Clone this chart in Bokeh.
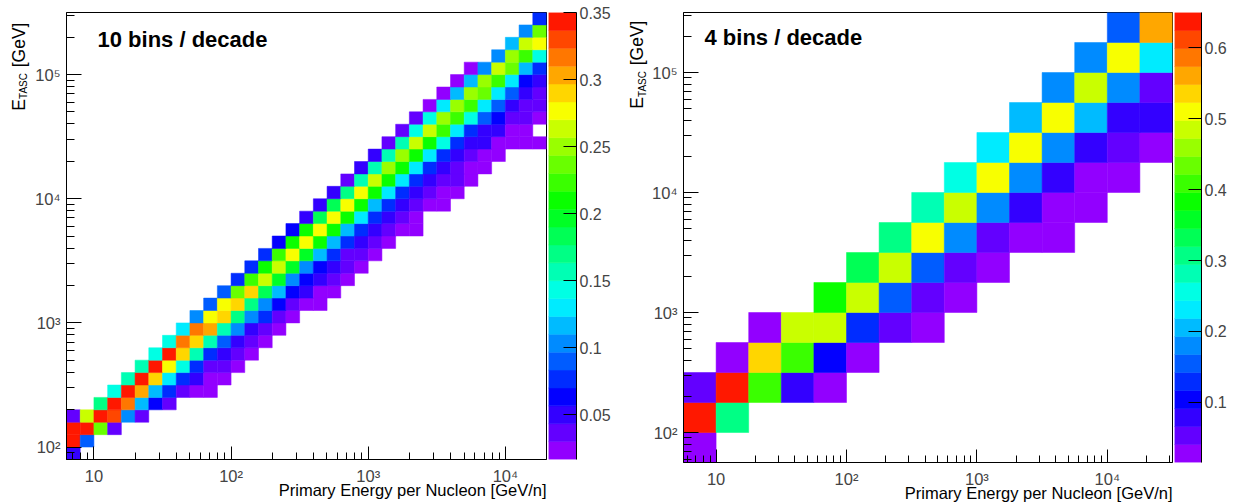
import colorsys
from math import pi
import numpy as np
from bokeh.plotting import figure
from bokeh.layouts import row
from bokeh.models import (ColumnDataSource, Range1d, FixedTicker, Label, Title,
                          LinearColorMapper, CustomJSTickFormatter)
from bokeh.transform import transform
from bokeh.core.properties import value
from bokeh.embed import file_html
from bokeh.resources import INLINE

FONT = "Liberation Sans"

# ---------------- common axis texts ----------------
x_ticks = [10, 100, 1000, 10000]
y_ticks = [100, 1000, 10000, 100000]
x_title = "Primary Energy per Nucleon [GeV/n]"
y_title_main, y_title_sub, y_title_unit = "E", "TASC", "[GeV]"

# ---------------- panel A : 10 bins / decade ----------------
a_title = "10 bins / decade"
a_x_log_range = (0.8, 4.3)
a_y_log_range = (1.9, 5.5)
a_bins_per_decade = 10
a_z_range = (0.0167, 0.35)
a_cbar_ticks = [0.05, 0.1, 0.15, 0.2, 0.25, 0.3, 0.35]
# first filled x-bin of every y-bin row (bottom to top)
a_row_start = [0, 0, 0, 0, 2, 3, 4, 5, 6, 7, 8, 9, 10, 11, 12, 13, 14, 15,
               16, 17, 18, 19, 20, 21, 22, 23, 24, 25, 26, 27, 28, 29, 31, 32, 33, 34]
a_rows = [
    [0.050],
    [0.343, 0.090],
    [0.343, 0.343, 0.237, 0.037],
    [0.037, 0.263, 0.343, 0.330, 0.103, 0.037],
    [0.170, 0.343, 0.317, 0.117, 0.063, 0.037],
    [0.143, 0.343, 0.303, 0.117, 0.077, 0.037, 0.023, 0.023],
    [0.157, 0.343, 0.290, 0.130, 0.077, 0.050, 0.023, 0.023],
    [0.157, 0.343, 0.277, 0.143, 0.077, 0.037, 0.037, 0.023],
    [0.143, 0.343, 0.290, 0.157, 0.077, 0.050, 0.037, 0.023],
    [0.143, 0.317, 0.290, 0.157, 0.090, 0.050, 0.037, 0.023],
    [0.130, 0.317, 0.303, 0.157, 0.103, 0.050, 0.037, 0.023],
    [0.103, 0.277, 0.290, 0.170, 0.103, 0.077, 0.037, 0.023],
    [0.090, 0.277, 0.290, 0.170, 0.103, 0.063, 0.037, 0.023, 0.023],
    [0.090, 0.237, 0.290, 0.183, 0.117, 0.063, 0.050, 0.023, 0.023],
    [0.077, 0.223, 0.263, 0.197, 0.103, 0.063, 0.050, 0.037, 0.023],
    [0.077, 0.210, 0.263, 0.197, 0.103, 0.063, 0.050, 0.037, 0.023],
    [0.077, 0.223, 0.277, 0.197, 0.117, 0.077, 0.037, 0.037, 0.023],
    [0.063, 0.210, 0.277, 0.210, 0.117, 0.077, 0.050, 0.037, 0.023],
    [0.063, 0.210, 0.277, 0.210, 0.117, 0.077, 0.050, 0.037, 0.023, 0.023],
    [0.050, 0.183, 0.277, 0.210, 0.130, 0.077, 0.050, 0.037, 0.023],
    [0.050, 0.183, 0.277, 0.210, 0.117, 0.077, 0.050, 0.037, 0.023, 0.023],
    [0.050, 0.170, 0.277, 0.210, 0.130, 0.077, 0.050, 0.037, 0.023, 0.023],
    [0.037, 0.157, 0.263, 0.210, 0.130, 0.077, 0.050, 0.037, 0.037, 0.023],
    [0.050, 0.157, 0.250, 0.210, 0.130, 0.077, 0.050, 0.037, 0.023, 0.023],
    [0.050, 0.157, 0.250, 0.210, 0.130, 0.077, 0.050, 0.037, 0.023, 0.023],
    [0.037, 0.157, 0.263, 0.210, 0.143, 0.077, 0.050, 0.050, 0.023, 0.023, 0.023, 0.023],
    [0.037, 0.143, 0.263, 0.223, 0.130, 0.077, 0.050, 0.050, 0.023, 0.023],
    [0.037, 0.143, 0.250, 0.223, 0.143, 0.090, 0.063, 0.037, 0.037, 0.023],
    [0.023, 0.130, 0.250, 0.223, 0.130, 0.090, 0.050, 0.037, 0.037],
    [0.023, 0.117, 0.250, 0.237, 0.130, 0.090, 0.050, 0.037],
    [0.023, 0.117, 0.250, 0.223, 0.130, 0.063, 0.050],
    [0.023, 0.103, 0.263, 0.237, 0.117, 0.077],
    [0.103, 0.250, 0.223, 0.143],
    [0.117, 0.263, 0.277],
    [0.103, 0.237],
    [0.077],
]

# ---------------- panel B : 4 bins / decade ----------------
b_title = "4 bins / decade"
b_x_log_range = (0.75, 4.5)
b_y_log_range = (1.75, 5.5)
b_bins_per_decade = 4
b_z_range = (0.015, 0.65)
b_cbar_ticks = [0.1, 0.2, 0.3, 0.4, 0.5, 0.6]
b_row_start = [0, 0, 0, 1, 2, 4, 5, 6, 7, 8, 9, 10, 11, 12, 13]
b_rows = [
    [0.028],
    [0.637, 0.307],
    [0.053, 0.637, 0.409, 0.079, 0.028],
    [0.028, 0.536, 0.409, 0.104, 0.028],
    [0.028, 0.485, 0.485, 0.129, 0.053, 0.028],
    [0.383, 0.485, 0.155, 0.053, 0.028],
    [0.332, 0.485, 0.155, 0.053, 0.028],
    [0.307, 0.510, 0.180, 0.053, 0.028, 0.028],
    [0.282, 0.485, 0.180, 0.079, 0.028, 0.028],
    [0.256, 0.510, 0.180, 0.079, 0.028, 0.028],
    [0.231, 0.510, 0.180, 0.079, 0.053, 0.028],
    [0.205, 0.510, 0.205, 0.079, 0.079],
    [0.180, 0.485, 0.180, 0.053],
    [0.180, 0.510, 0.231],
    [0.155, 0.561],
]

# ROOT-like rainbow palette (25 contour levels, violet -> red)
PALETTE = []
for k in range(25):
    h = (280.0 - (2 * k + 1) * 5.6) / 360.0
    r, g, b = colorsys.hls_to_rgb(h, 0.5, 1.0)
    PALETTE.append("#%02x%02x%02x" % (round(r * 255), round(g * 255), round(b * 255)))

H = 502
POW_FMT = CustomJSTickFormatter(code="""
const sup = ["\u2070", "\u00b9", "\u00b2", "\u00b3", "\u2074", "\u2075", "\u2076"];
const e = Math.round(Math.log10(tick));
return e == 1 ? "10" : "10" + sup[e];
""")


def build_ytitle(width, x_mid, end_y):
    """narrow strip holding the rotated y-axis title E_TASC [GeV] (y measured from top)"""
    f = figure(title=None, frame_width=width, frame_height=H,
               x_range=Range1d(0, width), y_range=Range1d(0, H),
               min_border=0, toolbar_location=None, output_backend="svg",
               x_axis_location=None, y_axis_location=None, outline_line_color=None,
               background_fill_color="white", border_fill_color="white")
    f.grid.visible = False
    common = dict(angle=pi / 2, text_font=value(FONT), text_align="center",
                  text_baseline="middle", text_color="black")
    f.text(x=[x_mid], y=[H - (end_y + 22.4)], text=[y_title_unit],
           text_font_size=value("17.5px"), **common)
    f.text(x=[x_mid + 5], y=[H - (end_y + 63.5)], text=[y_title_sub],
           text_font_size=value("10px"), **common)
    f.text(x=[x_mid], y=[H - (end_y + 82.5)], text=[y_title_main],
           text_font_size=value("17.5px"), **common)
    return f


def build_panel(title, xr, yr, bpd, row_start, rows, zr, left, top, fw, fh, title_pos):
    step = 1.0 / bpd
    L, R, B, T, V = [], [], [], [], []
    for j, (s, vals) in enumerate(zip(row_start, rows)):
        for k, v in enumerate(vals):
            i = s + k
            L.append(10 ** (xr[0] + i * step))
            R.append(10 ** (xr[0] + (i + 1) * step))
            B.append(10 ** (yr[0] + j * step))
            T.append(10 ** (yr[0] + (j + 1) * step))
            V.append(v)
    src = ColumnDataSource(dict(left=L, right=R, bottom=B, top=T, v=V))
    mapper = LinearColorMapper(palette=PALETTE, low=zr[0], high=zr[1])

    p = figure(title=None, x_axis_type="log", y_axis_type="log",
               x_range=Range1d(10 ** xr[0], 10 ** xr[1]),
               y_range=Range1d(10 ** yr[0], 10 ** yr[1]),
               frame_width=fw, frame_height=fh,
               min_border_left=left, min_border_right=1,
               min_border_top=top, min_border_bottom=H - top - fh,
               toolbar_location=None, output_backend="svg",
               background_fill_color="white", border_fill_color="white")
    p.outline_line_color = "black"
    p.outline_line_width = 1
    p.grid.visible = False

    p.quad(left="left", right="right", bottom="bottom", top="top", source=src,
           fill_color=transform("v", mapper), line_color=transform("v", mapper),
           line_width=0.5)

    xa = p.xaxis[0]
    xa.ticker = FixedTicker(ticks=x_ticks,
                            minor_ticks=[m * 10 ** e for e in range(0, 5) for m in range(2, 10)])
    xa.formatter = POW_FMT
    xa.major_tick_in, xa.major_tick_out = 13, 0
    xa.minor_tick_in, xa.minor_tick_out = 7, 0
    xa.axis_line_color = "black"
    xa.major_label_text_font = FONT
    xa.major_label_text_font_size = "16.5px"
    xa.major_label_standoff = 7

    ya = p.yaxis[0]
    ya.ticker = FixedTicker(ticks=y_ticks,
                            minor_ticks=[m * 10 ** e for e in range(1, 6) for m in range(2, 10)])
    ya.formatter = POW_FMT
    ya.major_tick_in, ya.major_tick_out = 15, 0
    ya.minor_tick_in, ya.minor_tick_out = 8, 0
    ya.axis_line_color = "black"
    ya.major_label_text_font = FONT
    ya.major_label_text_font_size = "16.5px"
    ya.major_label_standoff = 6

    # x-axis title, right aligned under the frame (ROOT style)
    p.add_layout(Title(text=x_title, align="right", vertical_align="top",
                       standoff=-14, offset=0, text_font=FONT,
                       text_font_size="16.5px", text_font_style="normal",
                       text_color="black"), "below")

    # panel title inside the frame
    p.add_layout(Label(x=title_pos[0], y=title_pos[1], x_units="screen", y_units="screen",
                       text=title, text_font=FONT, text_font_size="22px",
                       text_font_style="bold", text_color="black"))
    return p


def build_cbar(zr, ticks, top, fh, bw, right):
    cb = figure(title=None, x_range=Range1d(0, 1), y_range=Range1d(zr[0], zr[1]),
                frame_width=bw, frame_height=fh, min_border_left=1,
                min_border_right=right, min_border_top=top,
                min_border_bottom=H - top - fh, toolbar_location=None,
                output_backend="svg", x_axis_location=None,
                y_axis_location="right", outline_line_color=None,
                background_fill_color="white", border_fill_color="white")
    edges = np.linspace(zr[0], zr[1], len(PALETTE) + 1)
    cb.quad(left=0, right=1, bottom=edges[:-1], top=edges[1:],
            fill_color=PALETTE, line_color=PALETTE, line_width=0.5)
    cb.grid.visible = False
    ax = cb.yaxis[0]
    ax.ticker = FixedTicker(ticks=ticks, minor_ticks=[])
    ax.formatter = CustomJSTickFormatter(code="return tick.toString();")
    ax.major_tick_in, ax.major_tick_out = 13, 0
    ax.minor_tick_in, ax.minor_tick_out = 0, 0
    ax.axis_line_color = "black"
    ax.major_tick_line_color = "black"
    ax.major_label_text_font = FONT
    ax.major_label_text_font_size = "16px"
    ax.major_label_standoff = 3
    return cb


yA = build_ytitle(30, 18.4, 10)
pA = build_panel(a_title, a_x_log_range, a_y_log_range, a_bins_per_decade,
                 a_row_start, a_rows, a_z_range, left=36, top=12, fw=480, fh=447,
                 title_pos=(31, 408))
cA = build_cbar(a_z_range, a_cbar_ticks, top=12, fh=447, bw=28, right=44)

yB = build_ytitle(28, 16.5, 8)
pB = build_panel(b_title, b_x_log_range, b_y_log_range, b_bins_per_decade,
                 b_row_start, b_rows, b_z_range, left=35, top=9, fw=489, fh=450,
                 title_pos=(21, 413))
cB = build_cbar(b_z_range, b_cbar_ticks, top=9, fh=450, bw=27, right=38)

layout = row(yA, pA, cA, yB, pB, cB)
open("out.html", "w").write(file_html(layout, INLINE))
